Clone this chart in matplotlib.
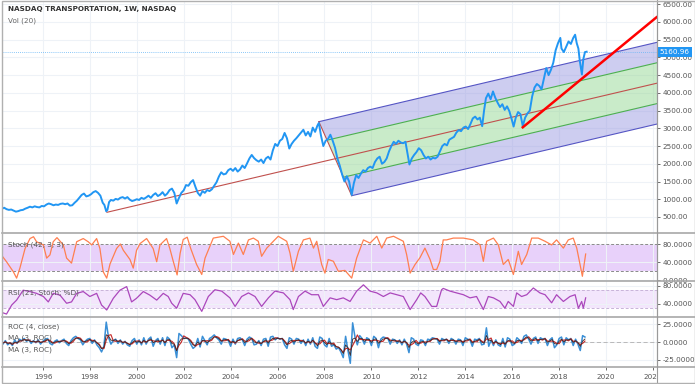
import numpy as np
import pandas as pd
import matplotlib
matplotlib.use('Agg')
import matplotlib.pyplot as plt
import matplotlib.transforms as mtransforms
from matplotlib.patches import Polygon, Rectangle
from matplotlib.lines import Line2D

plt.rcParams['font.family'] = ['DejaVu Sans']

# weekly close (decimal year, index value)
price_years = [
    1994.15, 1994.25, 1994.35, 1994.45, 1994.55, 1994.65, 1994.75, 1994.85, 1994.95, 1995.05,
    1995.15, 1995.25, 1995.35, 1995.45, 1995.55, 1995.65, 1995.75, 1995.85, 1995.95, 1996.05,
    1996.15, 1996.25, 1996.35, 1996.45, 1996.55, 1996.65, 1996.75, 1996.85, 1996.95, 1997.05,
    1997.15, 1997.25, 1997.35, 1997.45, 1997.55, 1997.65, 1997.75, 1997.85, 1997.95, 1998.05,
    1998.15, 1998.25, 1998.35, 1998.45, 1998.55, 1998.62, 1998.70, 1998.75, 1998.82, 1998.90,
    1999.00, 1999.10, 1999.20, 1999.30, 1999.40, 1999.50, 1999.60, 1999.70, 1999.80, 1999.90,
    2000.00, 2000.10, 2000.20, 2000.30, 2000.40, 2000.50, 2000.60, 2000.70, 2000.80, 2000.90,
    2001.00, 2001.10, 2001.20, 2001.30, 2001.40, 2001.50, 2001.60, 2001.70, 2001.78, 2001.90,
    2002.00, 2002.10, 2002.20, 2002.30, 2002.40, 2002.50, 2002.60, 2002.70, 2002.80, 2002.90,
    2003.00, 2003.10, 2003.20, 2003.30, 2003.40, 2003.50, 2003.60, 2003.70, 2003.80, 2003.90,
    2004.00, 2004.10, 2004.20, 2004.30, 2004.40, 2004.50, 2004.60, 2004.70, 2004.80, 2004.90,
    2005.00, 2005.10, 2005.20, 2005.30, 2005.40, 2005.50, 2005.60, 2005.70, 2005.80, 2005.90,
    2006.00, 2006.10, 2006.20, 2006.30, 2006.40, 2006.50, 2006.60, 2006.70, 2006.80, 2006.90,
    2007.00, 2007.10, 2007.20, 2007.30, 2007.40, 2007.50, 2007.60, 2007.70, 2007.76, 2007.85,
    2007.95, 2008.05, 2008.15, 2008.25, 2008.35, 2008.45, 2008.55, 2008.65, 2008.75, 2008.85,
    2008.95, 2009.05, 2009.16, 2009.25, 2009.35, 2009.45, 2009.55, 2009.65, 2009.75, 2009.85,
    2009.95, 2010.05, 2010.15, 2010.25, 2010.35, 2010.45, 2010.55, 2010.65, 2010.75, 2010.85,
    2010.95, 2011.05, 2011.15, 2011.25, 2011.35, 2011.45, 2011.55, 2011.62, 2011.72, 2011.82,
    2011.92, 2012.02, 2012.12, 2012.22, 2012.32, 2012.42, 2012.52, 2012.62, 2012.72, 2012.82,
    2012.92, 2013.02, 2013.12, 2013.22, 2013.32, 2013.42, 2013.52, 2013.62, 2013.72, 2013.82,
    2013.92, 2014.02, 2014.12, 2014.22, 2014.32, 2014.42, 2014.52, 2014.62, 2014.72, 2014.80,
    2014.88, 2014.98, 2015.08, 2015.18, 2015.28, 2015.38, 2015.48, 2015.58, 2015.68, 2015.78,
    2015.88, 2015.98, 2016.06, 2016.15, 2016.25, 2016.35, 2016.45, 2016.55, 2016.65, 2016.75,
    2016.85, 2016.95, 2017.05, 2017.15, 2017.25, 2017.35, 2017.45, 2017.55, 2017.65, 2017.75,
    2017.85, 2017.95, 2018.05, 2018.10, 2018.20, 2018.30, 2018.40, 2018.50, 2018.60, 2018.68,
    2018.75, 2018.82, 2018.88, 2018.97, 2019.03, 2019.10, 2019.17,
]
price_close = [
    745, 730, 760, 720, 700, 710, 680, 650, 665, 690,
    700, 735, 760, 790, 770, 800, 780, 770, 810, 800,
    850, 880, 860, 830, 850, 840, 870, 880, 860, 880,
    820, 830, 900, 960, 1040, 1120, 1160, 1080, 1100, 1140,
    1200, 1230, 1180, 1100, 900, 840, 660, 700, 920, 980,
    960, 1010, 990, 1040, 1060, 1020, 1060, 990, 950, 970,
    1000, 980, 1040, 1010, 1050, 1100, 1040, 1120, 1170, 1090,
    1130, 1200, 1100, 1160, 1260, 1300, 1180, 880, 1010, 1180,
    1250, 1400, 1380, 1480, 1540, 1350, 1180, 1100, 1230, 1180,
    1260, 1230, 1280, 1380, 1480, 1640, 1760, 1700, 1720, 1820,
    1860, 1800, 1880, 1780, 1840, 1950, 1880, 2010, 2150, 2250,
    2160, 2100, 2060, 2120, 2020, 2150, 2200, 2120, 2380, 2560,
    2500, 2650, 2700, 2870, 2720, 2430, 2560, 2650, 2720, 2800,
    2880, 2960, 2800, 2900, 2770, 3020, 2900, 3080, 3150, 2800,
    2500, 2650, 2700, 2820, 2650, 2450, 2150, 1950, 1700, 1500,
    1650, 1500, 1120, 1450, 1680, 1600, 1720, 1820, 1780, 1880,
    1920, 1880, 2050, 2150, 2200, 2000, 2050, 2150, 2350, 2500,
    2620, 2560, 2650, 2600, 2580, 2620, 2250, 1980, 2150, 2250,
    2330, 2440, 2380, 2250, 2150, 2200, 2120, 2170, 2150, 2200,
    2350, 2500, 2560, 2520, 2680, 2720, 2760, 2880, 2950, 2920,
    3020, 3050, 2980, 3120, 3280, 3330, 3250, 3300, 3060, 3500,
    3850, 3980, 3820, 4040, 3860, 3720, 3600, 3680, 3520, 3620,
    3480, 3250, 3050, 3300, 3460, 3400, 3060, 3300, 3420, 3500,
    3900, 4150, 4250, 4200, 4100, 4400, 4700, 4500, 4650, 4850,
    5200, 5400, 5550, 5250, 5150, 5300, 5450, 5380, 5550, 5640,
    5400, 5250, 4900, 4520, 4950, 5150, 5160.96,
]
last_close = 5160.96

# pitchfork pivots (A = handle, B = upper, C = lower)
fork_years = [1998.73, 2007.76, 2009.16]
fork_vals = [632, 3187, 1100]

# red trend line
trend_years = [2016.45, 2022.15]
trend_vals = [3029, 6132]

# Stoch (42, 3, 3)
stoch_years = [
    1994.17, 1994.45, 1994.74, 1994.88, 1995.02, 1995.24, 1995.45, 1995.6, 1995.73, 1996.02,
    1996.16, 1996.3, 1996.44, 1996.6, 1996.87, 1997.01, 1997.22, 1997.44, 1997.72, 1997.93,
    1998.08, 1998.29, 1998.43, 1998.57, 1998.72, 1998.86, 1999.14, 1999.3, 1999.43, 1999.71,
    1999.85, 1999.99, 2000.14, 2000.42, 2000.7, 2000.85, 2000.99, 2001.27, 2001.41, 2001.56,
    2001.72, 2001.85, 2001.98, 2002.15, 2002.3, 2002.55, 2002.77, 2002.91, 2003.26, 2003.69,
    2003.97, 2004.12, 2004.33, 2004.54, 2004.76, 2004.97, 2005.18, 2005.32, 2005.54, 2005.82,
    2006.03, 2006.39, 2006.53, 2006.67, 2006.89, 2007.1, 2007.38, 2007.53, 2007.67, 2007.88,
    2008.02, 2008.16, 2008.38, 2008.59, 2008.87, 2009.16, 2009.37, 2009.66, 2009.94, 2010.23,
    2010.44, 2010.65, 2010.94, 2011.36, 2011.5, 2011.65, 2011.86, 2012.07, 2012.28, 2012.5,
    2012.64, 2012.78, 2012.92, 2013.06, 2013.2, 2013.49, 2013.92, 2014.34, 2014.63, 2014.77,
    2014.91, 2015.2, 2015.41, 2015.62, 2015.83, 2016.05, 2016.26, 2016.4, 2016.62, 2016.83,
    2017.11, 2017.4, 2017.68, 2017.89, 2018.18, 2018.39, 2018.6, 2018.75, 2018.89, 2018.99,
    2019.13,
]
stoch_vals = [
    60, 41, 19, 5, 27, 70, 92, 96, 85, 78,
    49, 56, 85, 94, 78, 49, 38, 85, 92, 85,
    78, 92, 70, 19, 5, 36, 70, 80, 66, 46,
    27, 66, 81, 92, 70, 41, 78, 92, 70, 41,
    12, 60, 90, 95, 70, 35, 13, 49, 93, 97,
    86, 57, 82, 57, 89, 93, 86, 53, 71, 86,
    97, 86, 60, 20, 64, 89, 93, 71, 86, 35,
    16, 46, 42, 20, 22, 5, 49, 89, 82, 97,
    71, 93, 97, 86, 57, 16, 35, 50, 71, 46,
    24, 24, 42, 89, 89, 93, 93, 89, 78, 42,
    86, 93, 78, 35, 46, 13, 64, 35, 57, 93,
    93, 86, 78, 89, 71, 89, 93, 71, 35, 9,
    58,
]

# RSI (21, Stoch; %D)
rsi_years = [
    1994.17, 1994.45, 1994.67, 1994.88, 1995.16, 1995.45, 1995.73, 1996.02, 1996.23, 1996.44,
    1996.73, 1997.01, 1997.22, 1997.44, 1997.72, 1998.0, 1998.29, 1998.5, 1998.72, 1999.0,
    1999.28, 1999.57, 1999.78, 1999.99, 2000.28, 2000.56, 2000.85, 2001.13, 2001.34, 2001.49,
    2001.7, 2001.98, 2002.27, 2002.48, 2002.77, 2003.05, 2003.33, 2003.62, 2003.97, 2004.19,
    2004.47, 2004.76, 2005.04, 2005.32, 2005.61, 2005.89, 2006.25, 2006.53, 2006.67, 2006.89,
    2007.17, 2007.45, 2007.74, 2007.95, 2008.24, 2008.52, 2008.8, 2009.09, 2009.37, 2009.66,
    2009.94, 2010.23, 2010.51, 2010.8, 2011.08, 2011.36, 2011.65, 2011.93, 2012.1, 2012.28,
    2012.57, 2012.78, 2012.99, 2013.06, 2013.35, 2013.63, 2013.92, 2014.2, 2014.48, 2014.77,
    2014.98, 2015.2, 2015.48, 2015.69, 2015.83, 2016.05, 2016.19, 2016.4, 2016.62, 2016.9,
    2017.18, 2017.4, 2017.68, 2017.89, 2018.18, 2018.46, 2018.68, 2018.82, 2018.96, 2019.03,
    2019.13,
]
rsi_vals = [
    22, 17, 37, 48, 70, 67, 63, 56, 44, 63,
    59, 41, 44, 63, 67, 56, 63, 37, 26, 52,
    70, 78, 44, 52, 67, 59, 48, 63, 56, 41,
    30, 63, 60, 49, 23, 56, 71, 68, 53, 34,
    56, 64, 56, 34, 53, 68, 64, 49, 27, 56,
    68, 60, 60, 34, 53, 49, 53, 45, 68, 82,
    68, 64, 56, 64, 60, 56, 27, 49, 64, 56,
    34, 34, 71, 74, 68, 64, 60, 53, 56, 27,
    56, 53, 45, 30, 45, 34, 64, 56, 60, 75,
    64, 60, 42, 60, 45, 56, 60, 30, 45, 30,
    53,
]

# ROC (4, close), one reading every 0.1 year from 1994.2
roc_start = 1994.2
roc_vals = [
    1, -3, 2, -4, -1, -5, 3, -2, 4, 2,
    5, 1, 3, -2, 2, -1, 3, -3, 1, 4,
    5, -2, -4, 1, 3, -1, 2, 4, -2, -5,
    2, 6, 8, 5, 3, -4, 1, 4, 5, -2,
    3, -4, -8, -14, -6, 28, 6, -3, 2, 4,
    -2, 3, -3, 1, -4, -6, 2, 5, -3, 3,
    -4, 6, -3, 4, 7, -6, 2, 5, -3, 6,
    -5, 7, 4, -8, -4, -22, 12, 9, 5, 6,
    4, -3, -9, -6, 5, -7, 8, 2, -4, 5,
    7, 10, 6, 3, -3, 5, 4, 2, -6, 4,
    -3, 5, 6, 3, -5, 4, 7, 5, -4, -3,
    2, -5, 4, 5, -6, 7, 8, 3, 6, 4,
    5, -4, -9, 6, 4, -3, 5, 4, -2, 3,
    -5, 4, -3, 6, -6, -9, 7, 5, -4, -7,
    5, -6, -4, -10, -8, -14, -22, 8, -12, -30,
    27, 7, -4, 9, 5, -3, 6, 4, -5, 8,
    5, -8, 4, 7, 6, 5, -3, 4, 3, -2,
    3, -4, 4, -3, -15, 6, 4, -3, -5, 3,
    2, -5, 4, 3, 6, 5, 4, -3, 5, 3,
    4, -2, 5, 3, -3, 4, 3, -5, 6, 4,
    3, -6, 4, 3, 5, -4, -3, 20, -6, 3,
    -5, 3, -4, -6, 5, -7, 6, 4, -5, -3,
    6, 3, -2, 8, 10, 4, -3, 5, 7, -2,
    6, 4, 5, -5, 3, 6, -8, -4, 5, 7,
    -4, 6, 3, 5, -5, 4, -3, -12, 9, 7,
]
roc_years = roc_start + 0.1 * np.arange(len(roc_vals))
roc_s = pd.Series(roc_vals, dtype=float)
roc_ma = roc_s.rolling(3, min_periods=1).mean()
roc_ema = roc_s.ewm(span=3).mean()

year_ticks = list(range(1996, 2023, 2))

# ---- layout (pixel rows of the reference turned into fractions)
W, H = 695, 384
fig = plt.figure(figsize=(W / 100, H / 100), dpi=100)
left, right = 3 / W, 657 / W

def row(top_px, bot_px):
    return [left, 1 - bot_px / H, right - left, (bot_px - top_px) / H]

ax = fig.add_axes(row(1, 232.5))
ax_st = fig.add_axes(row(232.5, 281.3), sharex=ax)
ax_rsi = fig.add_axes(row(281.3, 317.3), sharex=ax)
ax_roc = fig.add_axes(row(317.3, 366.5), sharex=ax)

grid_c = '#eef2f7'
txt_c = '#555555'
fs = 5.2

for a in (ax, ax_st, ax_rsi, ax_roc):
    for s in ('top', 'left', 'bottom'):
        a.spines[s].set_visible(False)
    a.spines['right'].set_color('#9a9a9a')
    a.yaxis.tick_right()
    a.tick_params(axis='y', labelsize=fs, colors=txt_c, length=2.5, width=0.6, pad=1.5)
    a.tick_params(axis='x', labelsize=fs, colors=txt_c, length=2, width=0.6)
    a.grid(True, color=grid_c, lw=0.8)
    a.set_axisbelow(True)
    a.set_xticks(year_ticks)
    if a is not ax_roc:
        a.tick_params(axis='x', labelbottom=False, length=0)

ax.set_xlim(1994.3, 2022.17)

# ---- main panel
ax.set_ylim(62, 6591)
ax.set_yticks(range(500, 7000, 500))
ax.set_yticklabels(['%.2f' % v for v in range(500, 7000, 500)])

# pitchfork
A = np.array([fork_years[0], fork_vals[0]])
B = np.array([fork_years[1], fork_vals[1]])
C = np.array([fork_years[2], fork_vals[2]])
M = (B + C) / 2
slope = (M[1] - A[1]) / (M[0] - A[0])
x_end = 2023.0

def fork_pts(f):
    p = M + f * (B - M)
    return p, np.array([x_end, p[1] + slope * (x_end - p[0])])

for f1, f2, col in [(1, 0.5, '#9c9ce2'), (0.5, -0.5, '#95d895'), (-0.5, -1, '#9c9ce2')]:
    p1, e1 = fork_pts(f1)
    p2, e2 = fork_pts(f2)
    ax.add_patch(Polygon([p1, e1, e2, p2], closed=True, fc=col, ec='none', alpha=0.5, zorder=1))

for f, col in [(1, '#5555c4'), (0.5, '#4caf50'), (-0.5, '#4caf50'), (-1, '#5555c4')]:
    p, e = fork_pts(f)
    ax.plot([p[0], e[0]], [p[1], e[1]], color=col, lw=0.8, zorder=2)
_, e0 = fork_pts(0)
ax.plot([A[0], e0[0]], [A[1], e0[1]], color='#c0504d', lw=0.8, zorder=2)
ax.plot([B[0], C[0]], [B[1], C[1]], color='#c0504d', lw=0.8, zorder=2)

ax.plot(price_years, price_close, color='#2196f3', lw=1.4, zorder=3)
ax.plot(trend_years, trend_vals, color='#ff0000', lw=1.8, zorder=4)

# last price line + label
ax.axhline(last_close, color='#64b5f6', lw=0.6, ls=(0, (1, 1.5)), zorder=2)
trans = mtransforms.blended_transform_factory(ax.transAxes, ax.transData)
ax.text(1.004, last_close, '%.2f' % last_close, transform=trans, fontsize=fs, color='white',
        va='center', ha='left', clip_on=False, zorder=10,
        bbox=dict(boxstyle='square,pad=0.3', fc='#2196f3', ec='none'))

ax.text(0.008, 0.955, 'NASDAQ TRANSPORTATION, 1W, NASDAQ', transform=ax.transAxes,
        fontsize=fs, color='#333333', fontweight='bold')
ax.text(0.008, 0.905, 'Vol (20)', transform=ax.transAxes, fontsize=fs, color='#666666')

# ---- stoch panel
ax_st.set_ylim(-2, 105.3)
ax_st.set_yticks([0, 40, 80])
ax_st.set_yticklabels(['0.0000', '40.0000', '80.0000'])
ax_st.axhspan(20, 80, color='#d9b3f7', alpha=0.6, lw=0, zorder=0.5)
for lvl in (20, 80):
    ax_st.axhline(lvl, color='#8a8a8a', lw=0.7, ls=(0, (3, 2)))
ax_st.plot(stoch_years, stoch_vals, color='#ff7f50', lw=0.9)
ax_st.text(0.008, 0.72, 'Stoch (42, 3, 3)', transform=ax_st.transAxes, fontsize=fs, color=txt_c)

# ---- rsi panel
ax_rsi.set_ylim(9.8, 89.8)
ax_rsi.set_yticks([40, 80])
ax_rsi.set_yticklabels(['40.0000', '80.0000'])
ax_rsi.axhspan(30, 70, color='#ecd6fb', alpha=0.6, lw=0, zorder=0.5)
for lvl in (30, 70):
    ax_rsi.axhline(lvl, color='#c8b4d8', lw=0.7, ls=(0, (3, 2)))
ax_rsi.plot(rsi_years, rsi_vals, color='#ab47bc', lw=0.9)
ax_rsi.text(0.008, 0.62, 'RSI (21, Stoch; %D)', transform=ax_rsi.transAxes, fontsize=fs, color=txt_c)

# ---- roc panel
ax_roc.set_ylim(-34.5, 34.8)
ax_roc.set_yticks([-25, 0, 25])
ax_roc.set_yticklabels(['-25.0000', '0.0000', '25.0000'])
ax_roc.axhline(0, color='#b0b0b0', lw=0.6, ls=(0, (5, 3)))
ax_roc.plot(roc_years, roc_vals, color='#3a8fd6', lw=1.1)
ax_roc.plot(roc_years, roc_ma, color='#c62828', lw=0.8)
ax_roc.plot(roc_years, roc_ema, color='#3b2a2a', lw=0.6)
ax_roc.set_xticklabels([str(y) for y in year_ticks])
ax_roc.text(0.008, 0.78, 'ROC (4, close)', transform=ax_roc.transAxes, fontsize=fs, color=txt_c)
ax_roc.text(0.008, 0.54, 'MA (3, ROC)', transform=ax_roc.transAxes, fontsize=fs, color=txt_c)
ax_roc.text(0.008, 0.30, 'MA (3, ROC)', transform=ax_roc.transAxes, fontsize=fs, color=txt_c)

# hide the part of the last year label that runs under the price scale
fig.patches.append(Rectangle((right + 0.5 / W, 1 / H), 1, 16 / H, transform=fig.transFigure,
                             fc='white', ec='none', zorder=5))

# panel separators and outer frame
for y_px in (232.5, 281.3, 317.3, 366.5):
    fig.add_artist(Line2D([2 / W, 1], [1 - y_px / H] * 2, color='#a8a8a8', lw=1.2, zorder=6))
fig.add_artist(Line2D([right, right], [1 / H, 1], color='#9a9a9a', lw=0.8, zorder=6))
fig.patches.append(Rectangle((2 / W, 1.5 / H), 1 - 2 / W, 1 - 2.5 / H, transform=fig.transFigure,
                             fill=False, ec='#b0b0b0', lw=1, zorder=7))

fig.savefig('out.png', dpi=100)
